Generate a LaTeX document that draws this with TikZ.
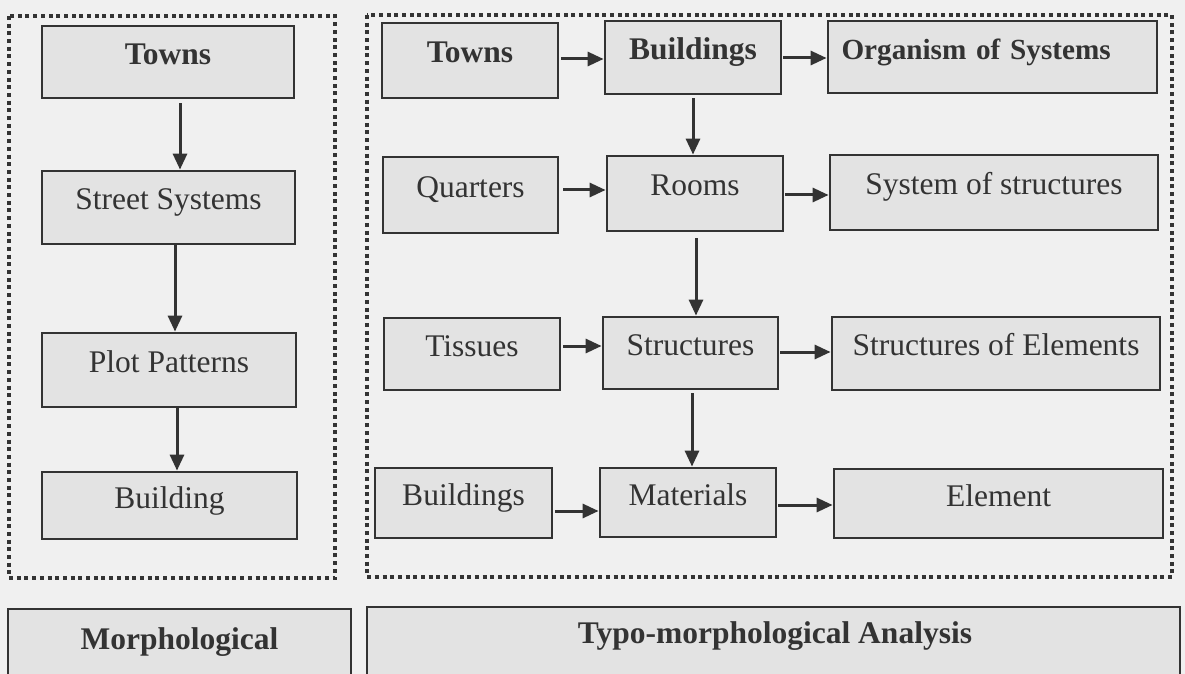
\documentclass[tikz,border=0pt]{standalone}
\usepackage{fontspec}
\setmainfont{Liberation Serif}
\usetikzlibrary{arrows.meta}
\definecolor{bg}{HTML}{F0F0F0}
\definecolor{boxfill}{HTML}{E3E3E3}
\definecolor{ink}{HTML}{333333}
\tikzset{
  bx/.style={draw=ink, fill=boxfill, line width=1.4pt, rectangle, inner sep=0pt,
    text=ink, font=\fontsize{15.75}{18}\selectfont, text height=6.25pt, text depth=3.75pt},
  bold/.style={font=\fontsize{15.75}{18}\selectfont\bfseries},
  arr/.style={draw=ink, line width=1.5pt, -{Triangle[length=8pt,width=7pt]}},
  frame/.style={draw=ink, line width=2pt, dash pattern=on 2pt off 1.85pt}
}
\newcommand{\bx}[7]{%
  \node[bx,#6,minimum width={(#4-#2)*0.5pt},minimum height={(#5-#3)*0.5pt}]
    (#1) at ({(#2+#4)/2},{(#3+#5)/2}) {#7};}
\begin{document}
\begin{tikzpicture}[x=0.5pt,y=-0.5pt]
\useasboundingbox (0,0) rectangle (1185,674);
\fill[bg] (0,0) rectangle (1185,674);
\begin{scope}
\clip (0,0) rectangle (1185,674);
% frames
\draw[frame] (9,16) rectangle (335,578);
\draw[frame] (367,15) rectangle (1172,577);
% left column
\bx{lt}{42}{26}{294}{98}{bold}{Towns}
\bx{ls}{42}{171}{295}{244}{}{Street Systems}
\bx{lp}{42}{333}{296}{407}{}{Plot Patterns}
\bx{lb}{42}{472}{297}{539}{}{Building}
% right column A
\bx{at}{382}{23}{558}{98}{bold}{Towns}
\bx{aq}{383}{157}{558}{233}{}{Quarters}
\bx{ati}{384}{318}{560}{390}{}{Tissues}
\bx{ab}{375}{468}{552}{538}{}{Buildings}
% column B
\bx{bb}{605}{21}{781}{94}{bold}{Buildings}
\bx{br}{607}{156}{783}{231}{}{Rooms}
\bx{bs}{603}{317}{778}{389}{}{Structures}
\bx{bm}{600}{468}{776}{537}{}{Materials}
% column C
\bx{co}{828}{21}{1157}{93}{font=\fontsize{14.6}{17}\selectfont\bfseries,text width=151pt,align=left}{Organism of Systems}
\bx{cs}{830}{155}{1158}{230}{}{System of structures}
\bx{ce}{832}{317}{1160}{390}{}{Structures of Elements}
\bx{cl}{834}{469}{1163}{538}{}{Element}
% bottom
\bx{mo}{8}{609}{351}{685}{bold}{Morphological}
\node[bx,minimum width={(1180-367)*0.5pt},minimum height={(685-607)*0.5pt}]
  (ty) at ({(367+1180)/2},{(607+685)/2}) {};
\node[text=ink,font=\fontsize{15.75}{18}\selectfont\bfseries,anchor=base] (tyt) at (775,643) {Typo-morphological Analysis};
% left arrows
\path ([shift={(12,4)}]lt.south) coordinate (p1);
\draw[arr] (p1) -- (p1 |- ls.north);
\path ([shift={(6.5,0)}]ls.south) coordinate (p2);
\draw[arr] (p2) -- (p2 |- lp.north);
\path ([shift={(8,0)}]lp.south) coordinate (p3);
\draw[arr] (p3) -- (p3 |- lb.north);
% horizontal arrows
\path ([shift={(2,-1.5)}]at.east) coordinate (h1);
\draw[arr] (h1) -- (h1 -| bb.west);
\path ([shift={(1,0.5)}]bb.east) coordinate (h2);
\draw[arr] (h2) -- (h2 -| co.west);
\path ([shift={(4,-5)}]aq.east) coordinate (h3);
\draw[arr] (h3) -- (h3 -| br.west);
\path ([shift={(1,1.5)}]br.east) coordinate (h4);
\draw[arr] (h4) -- (h4 -| cs.west);
\path ([shift={(2,-8)}]ati.east) coordinate (h5);
\draw[arr] (h5) -- (h5 -| bs.west);
\path ([shift={(1,-1)}]bs.east) coordinate (h6);
\draw[arr] (h6) -- (h6 -| ce.west);
\path ([shift={(2,8)}]ab.east) coordinate (h7);
\draw[arr] (h7) -- (h7 -| bm.west);
\path ([shift={(1,2.5)}]bm.east) coordinate (h8);
\draw[arr] (h8) -- (h8 -| cl.west);
% vertical arrows middle
\path ([shift={(0,3)}]bb.south) coordinate (v1);
\draw[arr] (v1) -- (v1 |- br.north);
\path ([shift={(1,6)}]br.south) coordinate (v2);
\draw[arr] (v2) -- (v2 |- bs.north);
\path ([shift={(1.5,3)}]bs.south) coordinate (v3);
\draw[arr] (v3) -- (v3 |- bm.north);
\end{scope}
\end{tikzpicture}
\end{document}
